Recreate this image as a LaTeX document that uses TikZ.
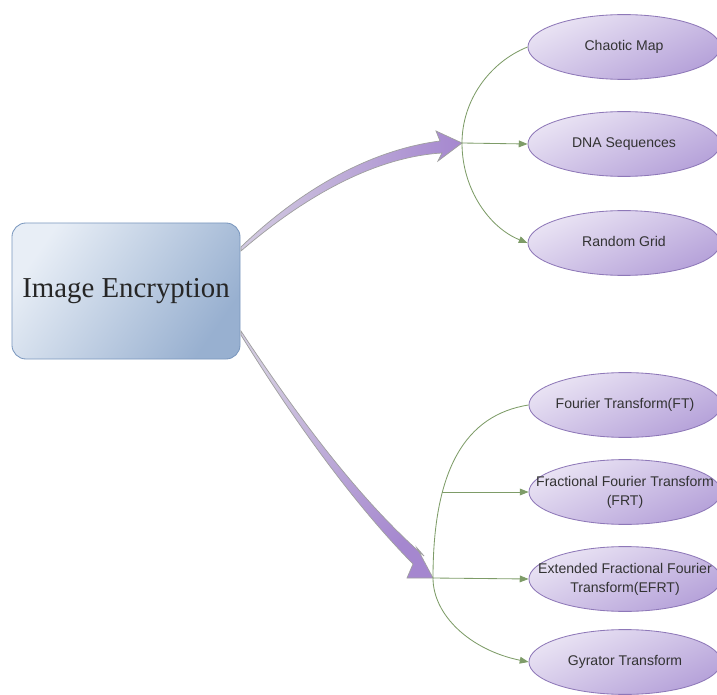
\documentclass[tikz,border=0pt]{standalone}
\usepackage{fontspec}
\setmainfont{Liberation Serif}
\setsansfont{Liberation Sans}
\usetikzlibrary{shapes.geometric, arrows.meta}

% texto que puede salirse de la elipse
\newcommand{\leaftext}[1]{\makebox[0pt]{\begin{tabular}{@{}c@{}}#1\end{tabular}}}

\begin{document}
\begin{tikzpicture}[x=0.025cm, y=-0.025cm,
    mainbox/.style={draw=cBoxEdge, line width=0.6pt, rounded corners=0.35cm, minimum width=5.7cm, minimum height=3.4cm, top color=cBoxLight, bottom color=cBoxDark, shading angle=55, font=\fontsize{20.5}{24}\selectfont, text=black!85},
    leaf/.style={ellipse, draw=cLeafEdge, line width=0.6pt, inner sep=0pt, minimum width=4.8cm, minimum height=1.62cm, top color=cLeafLight, bottom color=cLeafDark, shading angle=25, font=\sffamily\fontsize{10}{14}\selectfont, text=black!80},
    branch/.style={draw=cBranch, line width=0.6pt, -{Triangle[length=2.2mm, width=1.7mm]}},
    bigarrow/.style={draw=gray!75, line width=0.5pt, left color=cArrLight, right color=cArrDark}]

\definecolor{cBoxLight}{HTML}{E8EEF6}
\definecolor{cBoxDark}{HTML}{98B0D0}
\definecolor{cBoxEdge}{HTML}{7A97BE}
\definecolor{cLeafLight}{HTML}{EAE4F4}
\definecolor{cLeafDark}{HTML}{B5A1D9}
\definecolor{cLeafEdge}{HTML}{8E78B8}
\definecolor{cBranch}{HTML}{7E9C68}
\definecolor{cArrLight}{HTML}{D2CAE0}
\definecolor{cArrDark}{HTML}{A587CF}

\pgfmathsetmacro{\xa}{624}
\pgfmathsetmacro{\xb}{625}

\useasboundingbox (0,0) rectangle (717,695);

% Nodo central
\node[mainbox] (enc) at (126,291) {Image Encryption};

% Grupo superior
\node[leaf] (chaos) at (\xa,47)  {\leaftext{Chaotic Map}};
\node[leaf] (dna)   at (\xa,144) {\leaftext{DNA Sequences}};
\node[leaf] (grid)  at (\xa,243) {\leaftext{Random Grid}};

% Grupo inferior
\node[leaf] (ft)   at (\xb,405) {\leaftext{Fourier Transform(FT)}};
\node[leaf] (frt)  at (\xb,492) {\leaftext{Fractional Fourier Transform\\(FRT)}};
\node[leaf] (efrt) at (\xb,579) {\leaftext{Extended Fractional Fourier\\Transform(EFRT)}};
\node[leaf] (gyr)  at (\xb,662) {\leaftext{Gyrator Transform}};

\coordinate (hubA) at (462,143);
\coordinate (hubB) at (433,578);
\coordinate (footF) at (442,492);

% Flechas grandes
\draw[bigarrow] ([shift={(0.5,-44)}]enc.east) .. controls (300,190) and (370,150) .. (440,141)
    -- (436,131) -- (hubA) -- (438,161) -- (442,153)
    .. controls (375,157) and (305,196) .. ([shift={(0.5,-40)}]enc.east) -- cycle;
\draw[bigarrow, shading angle=45] ([shift={(0.5,40)}]enc.east) .. controls (300,420) and (360,500) .. (424,556)
    -- (417,548) -- (hubB) -- (407,578) -- (413,564)
    .. controls (355,505) and (296,424) .. ([shift={(0.5,44)}]enc.east) -- cycle;

% Ramas
\draw[branch] (chaos.west) .. controls (490,62) and (462,100) .. (hubA)
    .. controls (462,190) and (490,228) .. (grid.west);
\draw[branch] (hubA) -- (dna.west);
\draw[branch] (ft.west) .. controls (465,415) and (433,470) .. (hubB)
    .. controls (433,615) and (470,650) .. (gyr.west);
\draw[branch] (footF) -- (frt.west);
\draw[branch] (hubB) -- (efrt.west);

\end{tikzpicture}
\end{document}
